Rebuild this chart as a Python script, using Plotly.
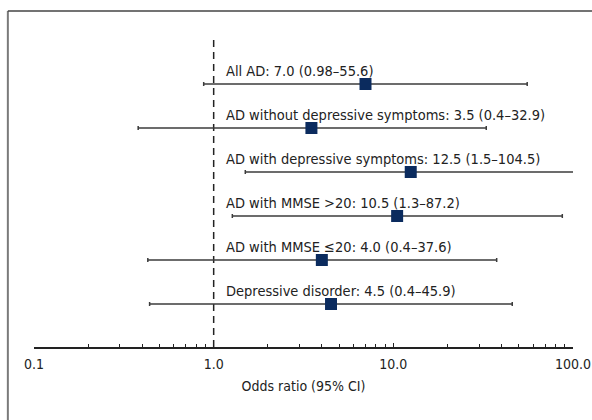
import plotly.graph_objects as go

labels = ["All AD", "AD without depressive symptoms", "AD with depressive symptoms",
          "AD with MMSE >20", "AD with MMSE \u226420", "Depressive disorder"]
odds = [7.0, 3.5, 12.5, 10.5, 4.0, 4.5]
ci_low_text = ["0.98", "0.4", "1.5", "1.3", "0.4", "0.4"]
ci_high_text = ["55.6", "32.9", "104.5", "87.2", "37.6", "45.9"]
ci_low = [0.88, 0.38, 1.5, 1.27, 0.43, 0.44]
ci_high = [55.6, 32.9, 104.5, 87.2, 37.6, 45.9]
odds_text = ["7.0", "3.5", "12.5", "10.5", "4.0", "4.5"]
tick_vals = [0.1, 1, 10, 100]
tick_text = ["0.1", "1.0", "10.0", "100.0"]

rows = list(range(1, len(labels) + 1))
FONT = "DejaVu Sans Condensed, Liberation Sans Narrow, sans-serif"
LINE = "#3c3c3c"

fig = go.Figure()
fig.add_trace(go.Scatter(
    x=odds, y=rows, mode="markers",
    marker=dict(symbol="square", size=12, color="#0b2b5e"),
    error_x=dict(type="data", symmetric=False,
                 array=[h - o for h, o in zip(ci_high, odds)],
                 arrayminus=[o - l for o, l in zip(odds, ci_low)],
                 color=LINE, thickness=1.5, width=2),
    showlegend=False, hoverinfo="skip", cliponaxis=True,
))

# reference line at OR = 1
fig.add_shape(type="line", xref="x", yref="y", x0=1, x1=1, y0=0, y1=6.977,
              line=dict(color="#222222", width=1.5, dash="7px,5px"), layer="below")

for r, lab, o, lo, hi in zip(rows, labels, odds_text, ci_low_text, ci_high_text):
    fig.add_annotation(xref="paper", yref="y", x=0.352, y=r - 0.29,
                       text=f"{lab}: {o} ({lo}\u2013{hi})", showarrow=False,
                       xanchor="left", yanchor="middle",
                       font=dict(family=FONT, size=14.5, color="#222222"))

# frame (left and top)
fig.add_shape(type="line", xref="paper", yref="paper", x0=-0.0485, x1=-0.0485, y0=-0.3, y1=1.0,
              line=dict(color="#7a7a7a", width=2))
fig.add_shape(type="line", xref="paper", yref="paper", x0=-0.0485, x1=1.1, y0=1.0, y1=1.0,
              line=dict(color="#444444", width=1.5))

fig.update_layout(
    width=592, height=420,
    margin=dict(l=34, r=19, t=11, b=73, autoexpand=False),
    paper_bgcolor="white", plot_bgcolor="white",
    font=dict(family=FONT, size=14, color="#222222"),
    xaxis=dict(type="log", range=[-1, 2], tickvals=tick_vals, ticktext=tick_text,
               automargin=False, ticklabelstandoff=3,
               ticks="inside", ticklen=4, tickcolor="#222222", tickwidth=1,
               showline=True, linecolor="#222222", linewidth=1.5,
               showgrid=False, zeroline=False,
               minor=dict(ticks="inside", ticklen=3, tickcolor="#222222", dtick="D1", showgrid=False),
               title=dict(text="Odds ratio (95% CI)", standoff=11,
                          font=dict(family=FONT, size=14)),
               tickfont=dict(family=FONT, size=14)),
    yaxis=dict(range=[6.977, -0.659], visible=False, showgrid=False, zeroline=False),
)

fig.write_html("out.html", config={"displayModeBar": False},
               post_script="document.body.style.margin='0';document.body.style.overflow='hidden';")
